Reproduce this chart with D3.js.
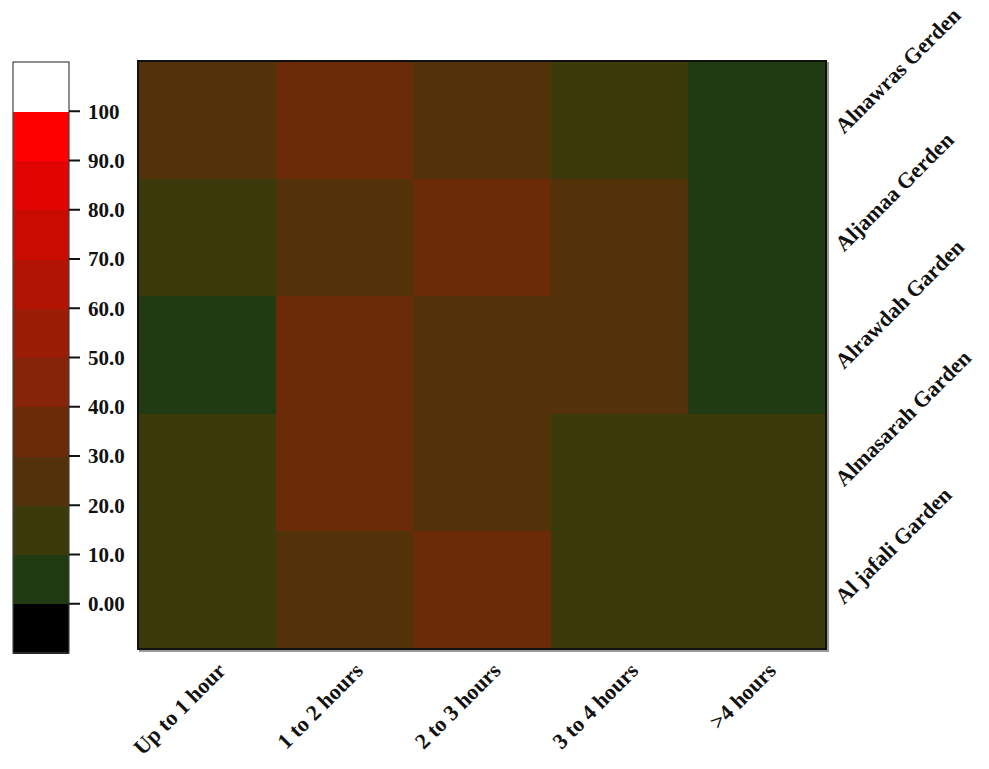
<!DOCTYPE html>
<html>
<head>
<meta charset="utf-8">
<script src="https://cdn.jsdelivr.net/npm/d3@7"></script>
<style>
  body { margin: 0; background: #fff; }
  text { font-family: "Liberation Serif", "Times New Roman", serif; font-weight: bold; fill: #111; }
</style>
</head>
<body>
<div id="chart"></div>
<script>
const width = 989;
const height = 769;

// Data
const durations = ["Up to 1 hour", "1 to 2 hours", "2 to 3 hours", "3 to 4 hours", ">4 hours"];
const gardens = ["Alnawras Gerden", "Aljamaa Gerden", "Alrawdah Garden", "Almasarah Garden", "Al jafali Garden"];
const alnawras = [24, 36, 26, 12, 2];
const aljamaa = [14, 28, 34, 22, 2];
const alrawdah = [6, 38, 26, 28, 2];
const almasarah = [16, 36, 26, 12, 10];
const aljafali = [18, 28, 32, 12, 10];
const rows = [alnawras, aljamaa, alrawdah, almasarah, aljafali];

const legendTicks = [0, 10, 20, 30, 40, 50, 60, 70, 80, 90, 100];
const legendTickLabels = ["0.00", "10.0", "20.0", "30.0", "40.0", "50.0", "60.0", "70.0", "80.0", "90.0", "100"];
const bandColors = ["#000000", "#203a12", "#3b3a0b", "#533209", "#6b2a08", "#862409",
                    "#9b1d05", "#b21404", "#c90b02", "#e20400", "#ff0000", "#ffffff"];

const color = d3.scaleThreshold().domain(legendTicks).range(bandColors);

const svg = d3.select("#chart").append("svg")
    .attr("width", width)
    .attr("height", height);

// Heatmap
const x = d3.scaleBand().domain(durations).range([138, 826]);
const y = d3.scaleBand().domain(gardens).range([61, 649]);

const cells = [];
gardens.forEach((g, i) => durations.forEach((d, j) => cells.push({ g, d, v: rows[i][j] })));

// shadow
svg.append("rect")
    .attr("x", x.range()[0] + 2).attr("y", y.range()[0] + 2)
    .attr("width", x.range()[1] - x.range()[0]).attr("height", y.range()[1] - y.range()[0])
    .attr("fill", "none").attr("stroke", "#999").attr("stroke-width", 2);

svg.append("g")
    .selectAll("rect")
    .data(cells)
    .enter().append("rect")
    .attr("x", c => x(c.d))
    .attr("y", c => y(c.g))
    .attr("width", x.bandwidth() + 0.5)
    .attr("height", y.bandwidth() + 0.5)
    .attr("fill", c => color(c.v))
    .attr("shape-rendering", "crispEdges");

svg.append("rect")
    .attr("x", x.range()[0]).attr("y", y.range()[0])
    .attr("width", x.range()[1] - x.range()[0]).attr("height", y.range()[1] - y.range()[0])
    .attr("fill", "none").attr("stroke", "#111").attr("stroke-width", 2);

// x labels
svg.append("g")
    .selectAll("text")
    .data(durations)
    .enter().append("text")
    .attr("transform", d => `translate(${x(d) + x.bandwidth() / 2 + 20},${672}) rotate(-45)`)
    .attr("text-anchor", "end")
    .attr("font-size", 22)
    .text(d => d);

// y labels (right side)
svg.append("g")
    .selectAll("text")
    .data(gardens)
    .enter().append("text")
    .attr("transform", g => `translate(${844},${y(g) + y.bandwidth() / 2 + 15}) rotate(-45)`)
    .attr("text-anchor", "start")
    .attr("font-size", 22)
    .text(g => g);

// Legend
const ly = d3.scaleLinear().domain([-10, 110]).range([653, 62]);
const bands = [-10].concat(legendTicks);
const lx0 = 13, lw = 56;

svg.append("g")
    .selectAll("rect")
    .data(bands)
    .enter().append("rect")
    .attr("x", lx0)
    .attr("y", b => ly(b + 10))
    .attr("width", lw)
    .attr("height", b => ly(b) - ly(b + 10) + 0.5)
    .attr("fill", b => color(b))
    .attr("shape-rendering", "crispEdges");

svg.append("rect")
    .attr("x", lx0).attr("y", ly(110))
    .attr("width", lw).attr("height", ly(-10) - ly(110))
    .attr("fill", "none").attr("stroke", "#444").attr("stroke-width", 1.2);

const tick = svg.append("g")
    .selectAll("g")
    .data(legendTicks)
    .enter().append("g")
    .attr("transform", t => `translate(${lx0 + lw},${ly(t)})`);

tick.append("line")
    .attr("x1", 0).attr("x2", 11)
    .attr("stroke", "#111").attr("stroke-width", 2);

tick.append("text")
    .attr("x", 19)
    .attr("dy", "0.35em")
    .attr("font-size", 21)
    .text((t, i) => legendTickLabels[i]);
</script>
</body>
</html>
